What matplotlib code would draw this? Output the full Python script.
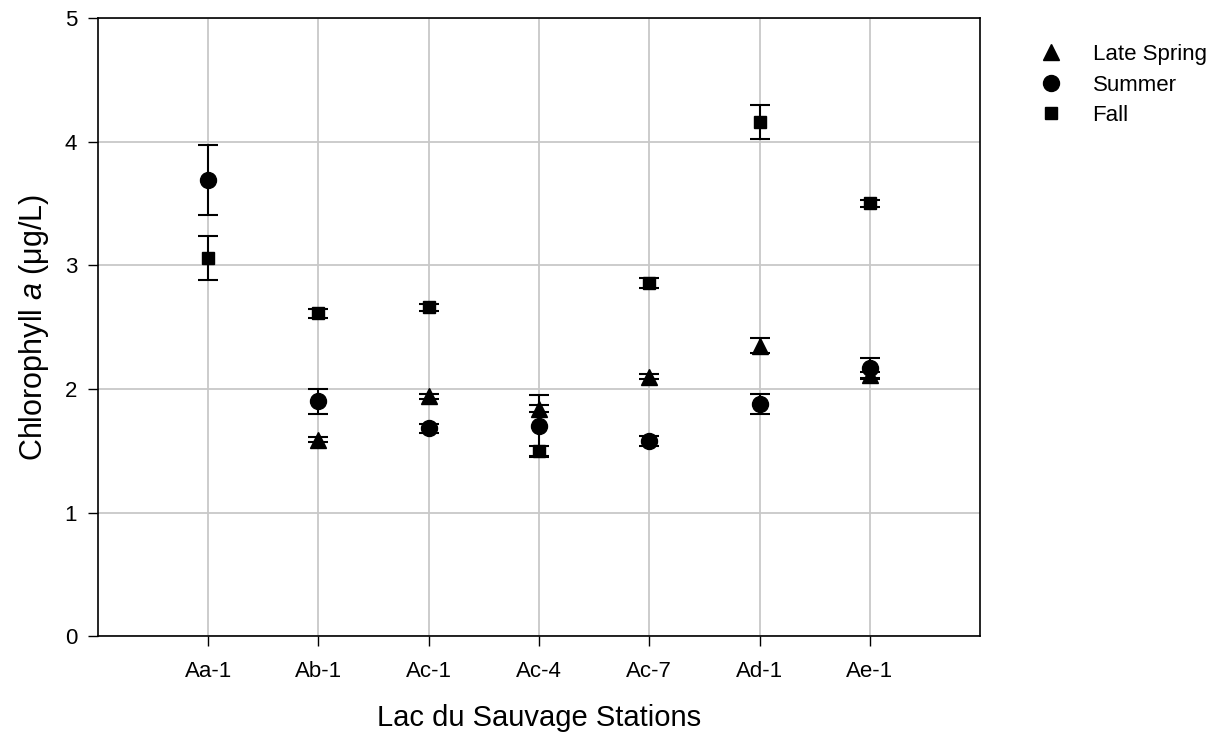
import matplotlib
matplotlib.use("Agg")
import matplotlib.pyplot as plt
import numpy as np

plt.rcParams['font.family'] = ['Liberation Sans', 'DejaVu Sans']
plt.rcParams['mathtext.fontset'] = 'custom'
plt.rcParams['mathtext.rm'] = 'Liberation Sans'
plt.rcParams['mathtext.it'] = 'Liberation Sans:italic'

# stations along the x axis
stations = ['Aa-1', 'Ab-1', 'Ac-1', 'Ac-4', 'Ac-7', 'Ad-1', 'Ae-1']

# chlorophyll a means and error (ug/L), nan = no sample
late_spring = [np.nan, 1.59, 1.94, 1.84, 2.10, 2.35, 2.11]
late_spring_err = [np.nan, 0.02, 0.02, 0.03, 0.02, 0.06, 0.03]
summer = [3.69, 1.90, 1.68, 1.70, 1.58, 1.88, 2.17]
summer_err = [0.28, 0.10, 0.04, 0.25, 0.04, 0.08, 0.08]
fall = [3.06, 2.61, 2.66, 1.50, 2.86, 4.16, 3.50]
fall_err = [0.18, 0.04, 0.03, 0.04, 0.04, 0.14, 0.03]

x = np.arange(1, len(stations) + 1)

fig = plt.figure(figsize=(12.24, 7.38), dpi=100)
ax = fig.add_axes([0.080, 0.138, 0.7207, 0.8376])

ax.grid(True, color='#c8c8c8', linewidth=1.3)
ax.set_axisbelow(True)

"""plot the three seasons"""
series = [
    (late_spring, late_spring_err, '^', 11, 'Late Spring'),
    (summer, summer_err, 'o', 11.5, 'Summer'),
    (fall, fall_err, 's', 9, 'Fall'),
]
handles = []
for vals, errs, mk, ms, lab in series:
    ax.errorbar(x, vals, yerr=errs, fmt=mk, color='black', markersize=ms,
                ecolor='black', elinewidth=1.5, capsize=7, capthick=1.5)
    h, = ax.plot([], [], mk, color='black', markersize=ms, linestyle='none', label=lab)
    handles.append(h)

ax.set_xlim(0, 8)
ax.set_ylim(0, 5)
ax.set_xticks(x)
ax.set_xticklabels(stations, fontsize=16)
ax.set_yticks(range(6))
ax.tick_params(axis='y', labelsize=16, length=7, width=1, direction='out', pad=8)
ax.tick_params(axis='x', length=7, width=1, direction='out', pad=11)
ax.tick_params(right=False, top=False)

ax.set_xlabel('Lac du Sauvage Stations', fontsize=21, labelpad=16)
ax.set_ylabel('Chlorophyll $a$ (\u03bcg/L)', fontsize=22, labelpad=10)

for s in ax.spines.values():
    s.set_linewidth(1.2)

ax.legend(handles=handles, loc='upper left', bbox_to_anchor=(1.052, 0.972),
          frameon=False, fontsize=16, handletextpad=1.1, labelspacing=0.42,
          handlelength=1.5, borderaxespad=0)

fig.savefig('out.png', dpi=100)
